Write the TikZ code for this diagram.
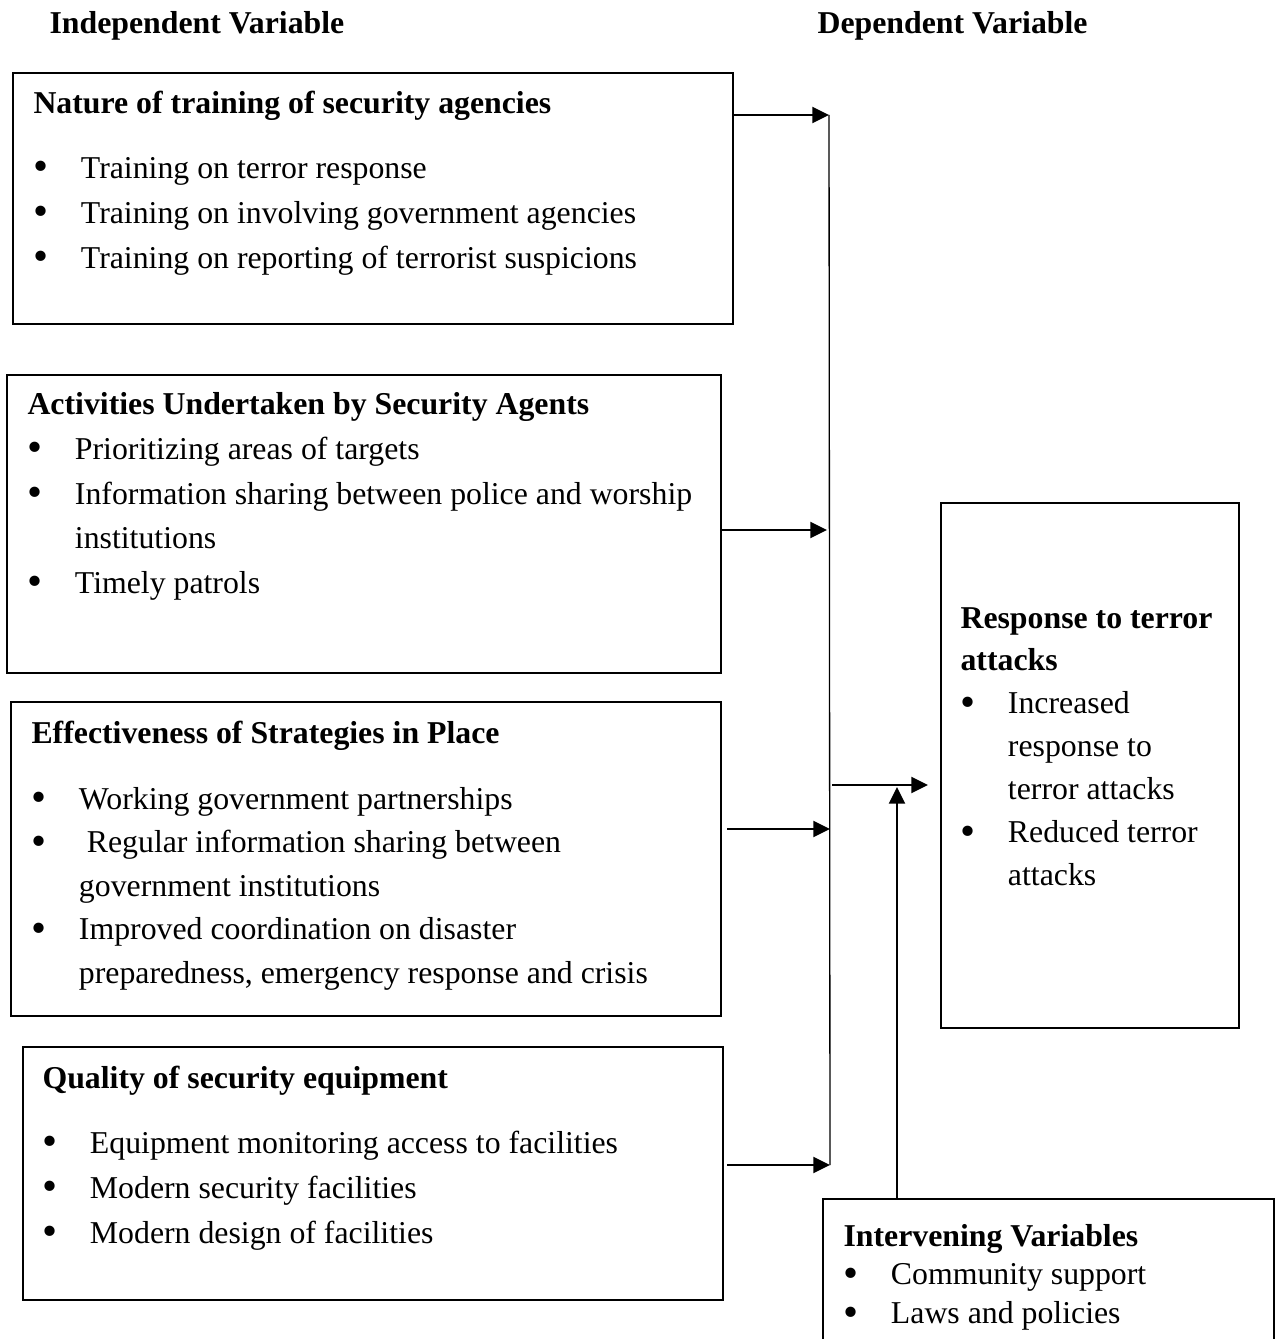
\documentclass[tikz,border=0pt]{standalone}
\usepackage{fontspec}
\setmainfont{Liberation Serif}
\usetikzlibrary{positioning,arrows.meta}
\newcommand{\px}{0.3774pt}
\newcommand{\itm}{\makebox[17.9pt][l]{\raisebox{-0.9pt}{\scalebox{1.35}{\textbullet}}}}
\newcommand{\cnt}{\hspace*{17.9pt}}

\begin{document}
\begin{tikzpicture}[x=0.3774pt,y=-0.3774pt,
                box/.style={draw=black,line width=0.75pt,anchor=north west,inner sep=0pt},
                txt/.style={anchor=base west,inner sep=0pt,font=\fontsize{12pt}{17pt}\selectfont},
                arr/.style={-{Triangle[length=6.3pt,width=6pt]},line width=1pt},
            ]
                \useasboundingbox (0,0) rectangle (1283,1339);

                \node[txt] (ind) at (49,34) {\textbf{Independent Variable}};
                \node[txt] (dep) at (817,34) {\textbf{Dependent Variable}};

% the four independent variable boxes
                \node[box,minimum width=720*\px,minimum height=251*\px] (nature) at (12,72) { };
                \node[box,minimum width=714*\px,minimum height=298*\px] (activ) at (6,374) { };
                \node[box,minimum width=710*\px,minimum height=314*\px] (effect) at (10,701) { };
                \node[box,minimum width=700*\px,minimum height=253*\px] (quality) at (22,1046) { };

                \node[txt] (nature-txt) at (33,114) {\begin{tabular}[t]{@{}l@{}}
                    \textbf{Nature of training of security agencies}\\[7.2pt]
                    \itm Training on terror response\\
                    \itm Training on involving government agencies\\
                    \itm Training on reporting of terrorist suspicions
                \end{tabular}};
                \node[txt,font=\fontsize{12pt}{16.8pt}\selectfont] (activ-txt) at (27,415) {\begin{tabular}[t]{@{}l@{}}
                    \textbf{Activities Undertaken by Security Agents}\\
                    \itm Prioritizing areas of targets\\
                    \itm Information sharing between police and worship\\
                    \cnt institutions\\
                    \itm Timely patrols
                \end{tabular}};
                \node[txt,font=\fontsize{12pt}{16.4pt}\selectfont] (effect-txt) at (31,743) {\begin{tabular}[t]{@{}l@{}}
                    \textbf{Effectiveness of Strategies in Place}\\[8.7pt]
                    \itm Working government partnerships\\
                    \itm \ Regular information sharing between\\
                    \cnt government institutions\\
                    \itm Improved coordination on disaster\\
                    \cnt preparedness, emergency response and crisis
                \end{tabular}};
                \node[txt] (quality-txt) at (42,1088) {\begin{tabular}[t]{@{}l@{}}
                    \textbf{Quality of security equipment}\\[7.7pt]
                    \itm Equipment monitoring access to facilities\\
                    \itm Modern security facilities\\
                    \itm Modern design of facilities
                \end{tabular}};

% dependent and intervening variables
                \node[box,minimum width=298*\px,minimum height=525*\px] (resp) at (940,502) { };
                \node[box,minimum width=451*\px,minimum height=145*\px] (interv) at (822,1198) { };

                \node[txt,font=\fontsize{12pt}{16.2pt}\selectfont] (resp-txt) at (960,628) {\begin{tabular}[t]{@{}l@{}}
                    \textbf{Response to terror}\\
                    \textbf{attacks}\\
                    \itm Increased\\
                    \cnt response to\\
                    \cnt terror attacks\\
                    \itm Reduced terror\\
                    \cnt attacks
                \end{tabular}};
                \node[txt,font=\fontsize{12pt}{14.7pt}\selectfont] (interv-txt) at (843,1246) {\begin{tabular}[t]{@{}l@{}}
                    \textbf{Intervening Variables}\\
                    \itm Community support\\
                    \itm Laws and policies
                \end{tabular}};

                \coordinate (j1) at (829,115);
                \coordinate (j2) at (827,530);
                \coordinate (j3) at (830,829);
                \coordinate (j4) at (830,1165);
                \coordinate (m) at (832,785);
                \coordinate (r) at (928,785);
                \coordinate (iv) at (897,787);

                \draw [arr] (nature.east |- j1) -- (j1);
                \draw [arr] (activ.east |- j2) -- (j2);
                \draw [arr] (effect.east |- j3) ++(5,0) -- (j3);
                \draw [arr] (quality.east |- j4) ++(3,0) -- (j4);
                \draw [line width=0.5pt] (j1) -- (j4);
                \draw [arr] (m) -- (r);
                \draw [arr] (interv.north -| iv) -- (iv);
            \end{tikzpicture}
\end{document}
